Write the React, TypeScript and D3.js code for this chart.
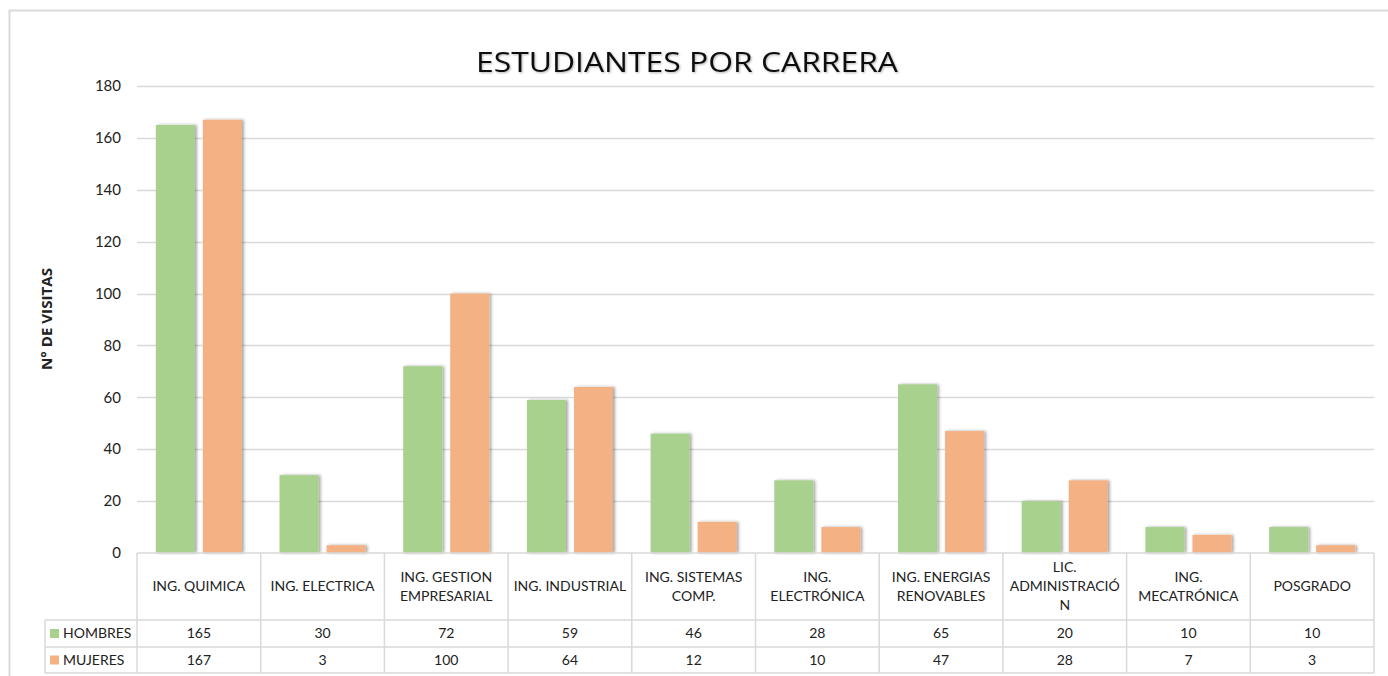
import React, {useEffect, useRef} from 'react';
import * as d3 from 'd3';

// datos del grafico
const carreras = [
    'ING. QUIMICA', 'ING. ELECTRICA', 'ING. GESTION EMPRESARIAL', 'ING. INDUSTRIAL',
    'ING. SISTEMAS COMP.', 'ING. ELECTRÓNICA', 'ING. ENERGIAS RENOVABLES',
    'LIC. ADMINISTRACIÓN', 'ING. MECATRÓNICA', 'POSGRADO'
];
// como se parte cada etiqueta en la tabla
const etiquetas = [
    ['ING. QUIMICA'], ['ING. ELECTRICA'], ['ING. GESTION', 'EMPRESARIAL'], ['ING. INDUSTRIAL'],
    ['ING. SISTEMAS', 'COMP.'], ['ING.', 'ELECTRÓNICA'], ['ING. ENERGIAS', 'RENOVABLES'],
    ['LIC.', 'ADMINISTRACIÓ', 'N'], ['ING.', 'MECATRÓNICA'], ['POSGRADO']
];
const hombres = [165, 30, 72, 59, 46, 28, 65, 20, 10, 10];
const mujeres = [167, 3, 100, 64, 12, 10, 47, 28, 7, 3];
const series = [
    {name: 'HOMBRES', values: hombres, color: '#A9D18E'},
    {name: 'MUJERES', values: mujeres, color: '#F4B183'}
];
const yTicks = [0, 20, 40, 60, 80, 100, 120, 140, 160, 180];

const App = () => {
    const chartRef = useRef<HTMLDivElement>(null);
    const W = 1388, H = 676;
    const left = 137, right = 1374, top = 86, base = 553;
    const rowH = [67, 27, 26];
    const font = 'Lato, "Open Sans", sans-serif';
    const grid = '#d9d9d9';

    useEffect(() => {
        const root = d3.select(chartRef.current);
        root.selectAll('*').remove();
        const svg = root.append('svg')
            .attr('width', W).attr('height', H)
            .style('display', 'block');

        const defs = svg.append('defs');
        const f = defs.append('filter').attr('id', 'sombra')
            .attr('x', '-20%').attr('y', '-5%').attr('width', '150%').attr('height', '110%');
        f.append('feDropShadow').attr('dx', 2).attr('dy', 0).attr('stdDeviation', 1.6)
            .attr('flood-color', '#000').attr('flood-opacity', 0.35);
        const ft = defs.append('filter').attr('id', 'sombraT');
        ft.append('feDropShadow').attr('dx', 1).attr('dy', 1).attr('stdDeviation', 1)
            .attr('flood-color', '#000').attr('flood-opacity', 0.3);

        svg.append('rect').attr('width', W).attr('height', H).attr('fill', '#fff');
        // marco exterior
        svg.append('rect').attr('x', 9.5).attr('y', 10.5).attr('width', W).attr('height', H)
            .attr('fill', 'none').attr('stroke', grid).attr('stroke-width', 2);

        const x = d3.scaleBand().domain(carreras).range([left, right]);
        const y = d3.scaleLinear().domain([0, 180]).range([base, top]);
        const xs = d3.scaleBand().domain(series.map(s => s.name))
            .range([0, x.bandwidth()]).paddingInner(0.17).paddingOuter(0.4);

        // lineas de cuadricula
        svg.append('g').selectAll('line').data(yTicks.filter(t => t > 0)).join('line')
            .attr('x1', left).attr('x2', right)
            .attr('y1', d => Math.round(y(d)) + 0.5).attr('y2', d => Math.round(y(d)) + 0.5)
            .attr('stroke', grid).attr('stroke-width', 1.3);

        // etiquetas eje y
        svg.append('g').selectAll('text').data(yTicks).join('text')
            .attr('x', 121).attr('y', d => y(d)).attr('dy', '0.35em')
            .attr('text-anchor', 'end')
            .style('font-family', font).style('font-size', '15px').attr('fill', '#222')
            .text(d => d);

        svg.append('text')
            .attr('transform', `translate(52, 319) rotate(-90)`)
            .attr('text-anchor', 'middle')
            .style('font-family', '"Open Sans", sans-serif').style('font-size', '14px').style('font-weight', 'bold')
            .attr('textLength', 102).attr('lengthAdjust', 'spacingAndGlyphs')
            .attr('fill', '#222').text('N° DE VISITAS');

        // barras
        series.forEach(s => {
            svg.append('g').attr('filter', 'url(#sombra)')
                .selectAll('rect').data(s.values).join('rect')
                .attr('x', (d, i) => (x(carreras[i]) as number) + (xs(s.name) as number))
                .attr('width', xs.bandwidth())
                .attr('y', d => y(d))
                .attr('height', d => base - y(d))
                .attr('fill', s.color);
        });

        // titulo
        svg.append('text')
            .attr('x', 687).attr('y', 72).attr('text-anchor', 'middle')
            .attr('filter', 'url(#sombraT)')
            .style('font-family', '"Open Sans", sans-serif').style('font-size', '27px')
            .attr('textLength', 422).attr('lengthAdjust', 'spacingAndGlyphs')
            .attr('fill', '#111').text('ESTUDIANTES POR CARRERA');

        // tabla de datos
        const tabla = svg.append('g');
        const r1 = base + rowH[0], r2 = r1 + rowH[1], r3 = r2 + rowH[2];
        const linea = (x1: number, y1: number, x2: number, y2: number) =>
            tabla.append('line').attr('x1', x1).attr('y1', y1).attr('x2', x2).attr('y2', y2)
                .attr('stroke', grid).attr('stroke-width', 1.5);
        linea(left, base, right, base);
        linea(45, r1, right, r1);
        linea(45, r2, right, r2);
        linea(45, r3, right, r3);
        linea(45, r1, 45, r3);
        carreras.forEach(c => linea(x(c) as number, base, x(c) as number, r3));
        linea(right, base, right, r3);

        const fs = '14px';
        carreras.forEach((c, i) => {
            const cx = (x(c) as number) + x.bandwidth() / 2;
            const lines = etiquetas[i];
            const lh = 19;
            const y0 = base + rowH[0] / 2 - (lines.length - 1) * lh / 2;
            lines.forEach((l, j) => {
                tabla.append('text').attr('x', cx).attr('y', y0 + j * lh).attr('dy', '0.35em')
                    .attr('text-anchor', 'middle')
                    .style('font-family', font).style('font-size', fs).attr('fill', '#222')
                    .text(l);
            });
            series.forEach((s, k) => {
                const cy = k === 0 ? (r1 + r2) / 2 : (r2 + r3) / 2;
                tabla.append('text').attr('x', cx).attr('y', cy).attr('dy', '0.35em')
                    .attr('text-anchor', 'middle')
                    .style('font-family', font).style('font-size', fs).attr('fill', '#222')
                    .text(s.values[i]);
            });
        });

        series.forEach((s, k) => {
            const cy = k === 0 ? (r1 + r2) / 2 : (r2 + r3) / 2;
            tabla.append('rect').attr('x', 50).attr('y', cy - 4.5).attr('width', 9).attr('height', 9)
                .attr('fill', s.color);
            tabla.append('text').attr('x', 63).attr('y', cy).attr('dy', '0.35em')
                .style('font-family', font).style('font-size', fs).attr('fill', '#222')
                .text(s.name);
        });
    }, []);

    return (
        <div style={{position: 'absolute', left: 0, top: 0}}>
            <div ref={chartRef} />
        </div>
    );
};

export default App;
